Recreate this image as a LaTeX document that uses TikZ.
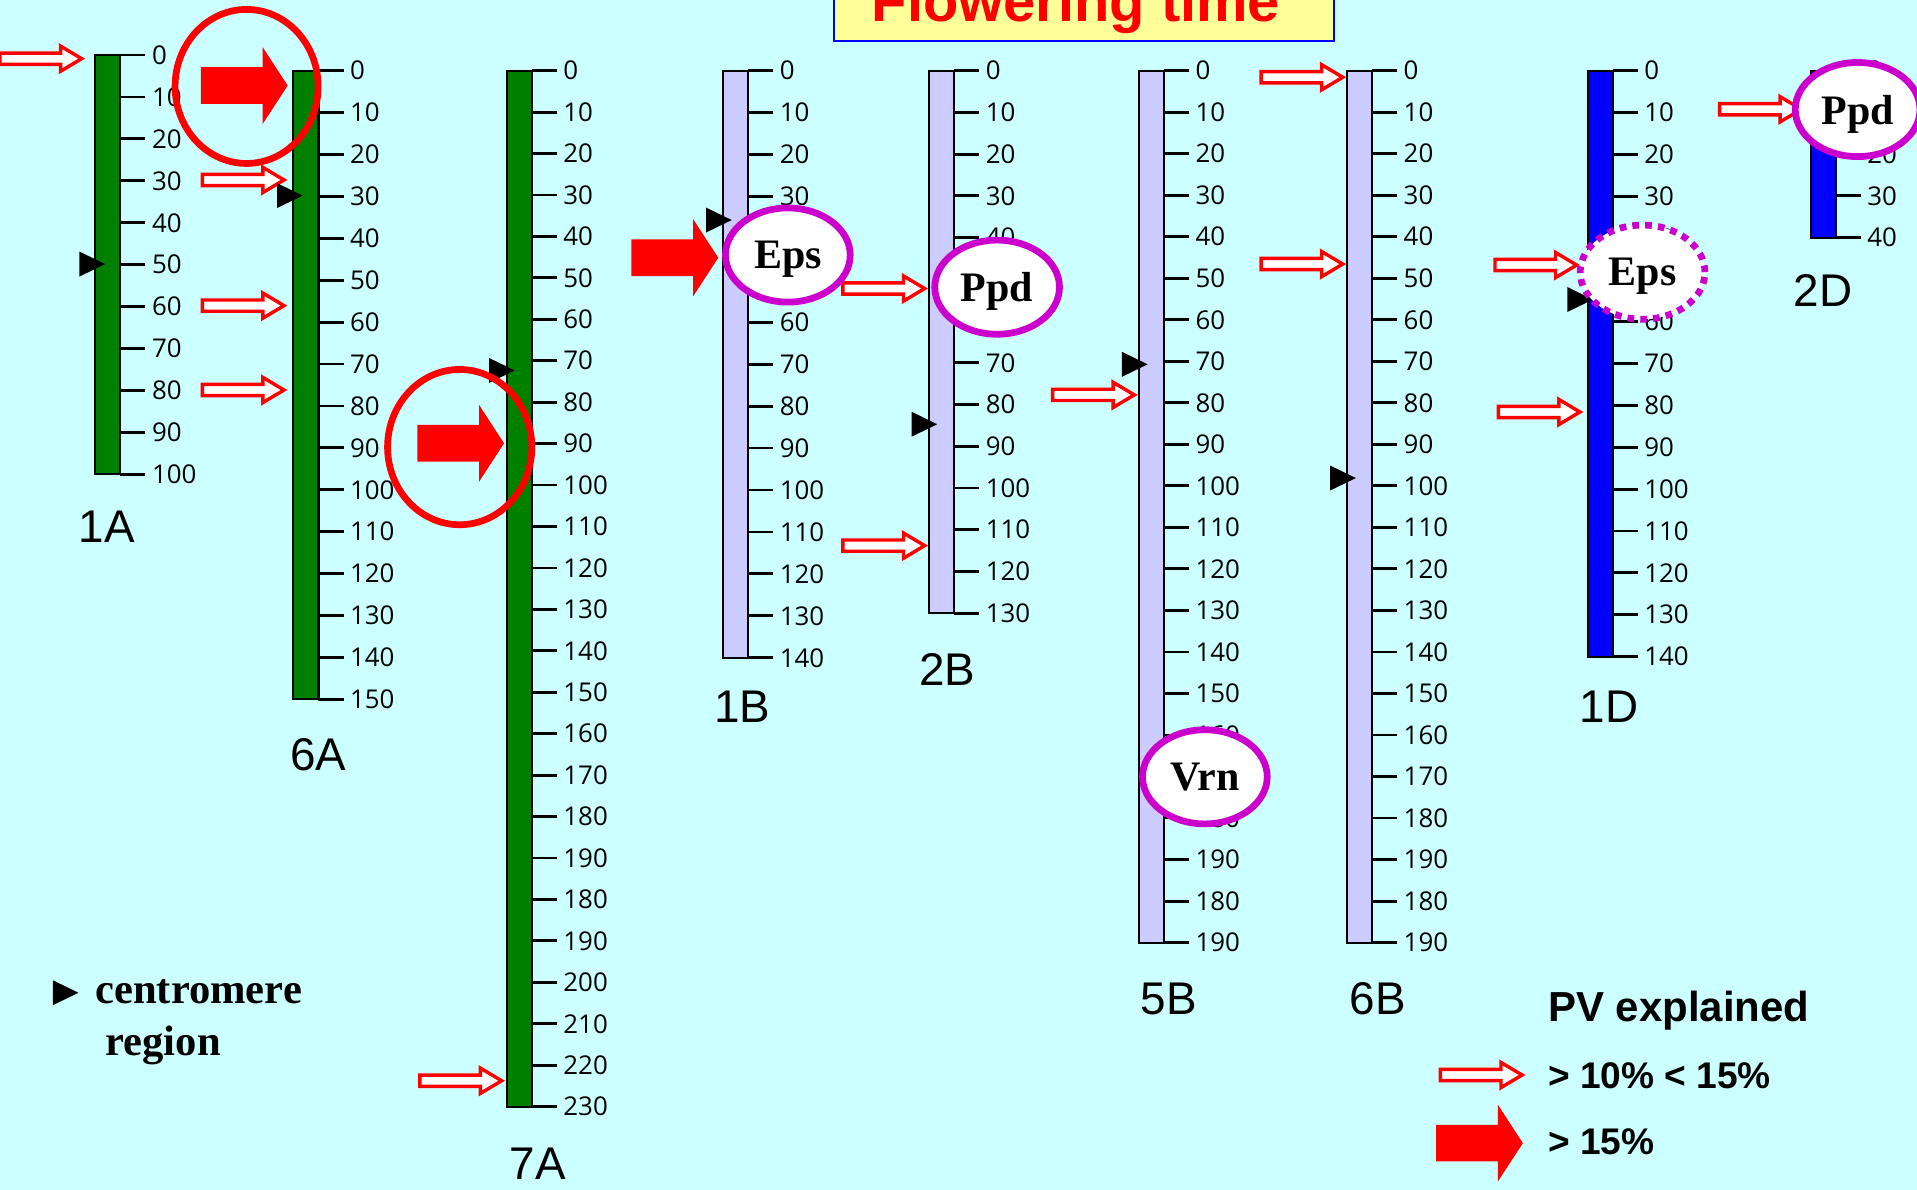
\documentclass[tikz,border=0pt]{standalone}
\usepackage{fontspec}
\setmainfont{Liberation Serif}
\newfontfamily\labelsans{Liberation Sans}
\newfontfamily\ticksans{Open Sans}
\usetikzlibrary{shapes.geometric}

\definecolor{bgcyan}{HTML}{CCFFFF}
\definecolor{chrgreen}{HTML}{008000}
\definecolor{chrlav}{HTML}{CCCCFF}
\definecolor{chrblue}{HTML}{0000FF}
\definecolor{qtlmag}{HTML}{CC00CC}
\definecolor{titlefill}{HTML}{FFFF99}

% arrow symbols and centromere marker, tip at the origin, pointing right
\tikzset{
  pics/openarrow/.style={code={
    \filldraw[fill=white, draw=red, line width=1.7pt, miter limit=10]
      (-69.5,-4.6) -- (-20,-4.6) -- (-20,-10.3) -- (-2.7,0) -- (-20,10.3) -- (-20,4.6) -- (-69.5,4.6) -- cycle;}},
  pics/majorarrow/.style={code={
    \fill[red] (-71,-15) -- (-20.5,-15) -- (-20.5,-31.5) -- (0,0) -- (-20.5,31.5) -- (-20.5,15) -- (-71,15) -- cycle;}},
  pics/cenmark/.style={code={
    \fill[black] (0,0) -- (-21,-10.2) -- (-21,10.2) -- cycle;}}
}

% chromosome: #1 name, #2 left x, #3 top y, #4 bottom y, #5 intervals, #6 fill, #7 tick labels
\newcommand{\chromo}[7]{%
  \node[chrbar, fill=#6, minimum height={(#4-#3)*0.6pt}, anchor=north west] (#1) at (#2,#3) {};
  \foreach \lab [count=\k from 0] in {#7} {
    \coordinate (#1-t\k) at ({#2+20.5},{#3+(#4-#3)/#5*\k});
    \draw[tickline] (#1-t\k) -- ++(20.5,0) coordinate (#1-e\k);
    \node[ticklabel] (#1-l\k) at ([xshift=3pt]#1-e\k) {\lab};
  }
}

\begin{document}
\begin{tikzpicture}[x=0.6pt,y=-0.6pt,
  chrbar/.style={draw=black, line width=1pt, rectangle, inner sep=0pt, outer sep=0pt, minimum width=12.3pt},
  tickline/.style={line width=1.4pt, black},
  ticklabel/.style={anchor=west, inner sep=0pt, font=\ticksans\fontsize{12.7}{13}\selectfont},
  chrname/.style={inner sep=0pt, font=\labelsans\fontsize{22.5}{22.5}\selectfont},
  qtl/.style={ellipse, draw=qtlmag, line width=3.3pt, fill=white, inner sep=0pt,
    minimum width=61.2pt, minimum height=46.2pt, font=\bfseries\fontsize{20.6}{20.6}\selectfont, text depth=0pt},
  ring/.style={ellipse, draw=red, line width=3.3pt, inner sep=0pt},
  legtext/.style={anchor=base west, inner sep=0pt}
]
\useasboundingbox (0,0) rectangle (1568,973);
\fill[bgcyan] (0,0) rectangle (1568,973);

% title
\node[draw=blue, fill=titlefill, line width=1pt, inner sep=0pt, outer sep=0pt,
  minimum width={409.2*0.6pt}, minimum height={53.3*0.6pt}, anchor=south west] (titlebox) at (681.8,33.3) {};
\node[anchor=base, inner sep=0pt, text=red, font=\labelsans\bfseries\fontsize{28.4}{28.4}\selectfont]
  (title) at (880,17.7) {Flowering time};

% chromosomes
\chromo{c1A}{78}{45}{388}{10}{chrgreen}{0,10,20,30,40,50,60,70,80,90,100}
\chromo{c6A}{240}{57.8}{572}{15}{chrgreen}{0,10,20,30,40,50,60,70,80,90,100,110,120,130,140,150}
\chromo{c7A}{414.5}{57.8}{905.2}{25}{chrgreen}{0,10,20,30,40,50,60,70,80,90,100,110,120,130,140,150,160,170,180,190,180,190,200,210,220,230}
\chromo{c1B}{591.5}{57.8}{538}{14}{chrlav}{0,10,20,30,40,50,60,70,80,90,100,110,120,130,140}
\chromo{c2B}{760}{57.8}{501.5}{13}{chrlav}{0,10,20,30,40,50,60,70,80,90,100,110,120,130}
\chromo{c5B}{931.6}{57.8}{771}{21}{chrlav}{0,10,20,30,40,50,60,70,80,90,100,110,120,130,140,150,160,170,180,190,180,190}
\chromo{c6B}{1101.8}{57.8}{771}{21}{chrlav}{0,10,20,30,40,50,60,70,80,90,100,110,120,130,140,150,160,170,180,190,180,190}
\chromo{c1D}{1298.6}{57.8}{537}{14}{chrblue}{0,10,20,30,40,50,60,70,80,90,100,110,120,130,140}
\chromo{c2D}{1481}{57.8}{194.4}{4}{chrblue}{0,10,20,30,40}

% chromosome names
\node[chrname] (n1A) at (87.5,431) {1A};
\node[chrname] (n6A) at (260.5,617) {6A};
\node[chrname] (n7A) at (440,952) {7A};
\node[chrname] (n1B) at (607,578) {1B};
\node[chrname] (n2B) at (775,548) {2B};
\node[chrname] (n5B) at (956,817) {5B};
\node[chrname] (n6B) at (1127,817) {6B};
\node[chrname] (n1D) at (1316,578) {1D};
\node[chrname] (n2D) at (1491,238) {2D};

% QTL positions
\coordinate (q1A) at (69.5,48);
\coordinate (q6Aa) at (235,147.2);
\coordinate (q6Ab) at (235,250);
\coordinate (q6Ac) at (235,319);
\coordinate (q7A) at (413,884);
\coordinate (q2Ba) at (759,236);
\coordinate (q2Bb) at (759,446.3);
\coordinate (q5B) at (930.5,323);
\coordinate (q6Ba) at (1101,63.2);
\coordinate (q6Bb) at (1101,216);
\coordinate (q1Da) at (1292.3,216.8);
\coordinate (q1Db) at (1295,337);
\coordinate (q2D) at (1476,89.4);
\coordinate (m6A) at (235.3,70);
\coordinate (m7A) at (412.3,362.6);
\coordinate (m1B) at (587.5,210.8);

% minor QTL arrows
\foreach \q in {q1A,q6Aa,q6Ab,q6Ac,q7A,q2Ba,q2Bb,q5B,q6Ba,q6Bb,q1Da,q1Db,q2D}
  \pic at (\q) {openarrow};

% centromeres
\coordinate (cen1A) at (86,216);
\coordinate (cen6A) at (247.6,160);
\coordinate (cen7A) at (421,303);
\coordinate (cen1B) at (598.5,180);
\coordinate (cen2B) at (766.6,347);
\coordinate (cen5B) at (938.7,298);
\coordinate (cen6B) at (1109,391);
\coordinate (cen1D) at (1303,245);
\foreach \c in {cen1A,cen6A,cen7A,cen1B,cen2B,cen5B,cen6B,cen1D}
  \pic at (\c) {cenmark};

% major QTL arrows
\foreach \q in {m6A,m7A,m1B}
  \pic at (\q) {majorarrow};

% highlighted regions
\node[ring, minimum width=70.2pt, minimum height=75.6pt] (ring6A) at (201.7,70.7) {};
\node[ring, minimum width=70.8pt, minimum height=76.2pt] (ring7A) at (376,365.7) {};

% candidate genes
\node[qtl] (eps1B) at (644.4,208.6) {Eps};
\node[qtl] (ppd2B) at (815.6,234.9) {Ppd};
\node[qtl] (vrn5B) at (985.5,635.4) {Vrn};
\node[qtl, dash pattern=on 3.3pt off 3pt] (eps1D) at (1343.5,222.6) {Eps};
\node[qtl] (ppd2D) at (1519.4,89.6) {Ppd};

% legend: centromere
\coordinate (legcen) at (64.2,812);
\pic at (legcen) {cenmark};
\node[legtext, font=\bfseries\fontsize{20.9}{20.9}\selectfont] (legc1) at (77.7,820.6) {centromere};
\node[legtext, font=\bfseries\fontsize{20.9}{20.9}\selectfont] (legc2) at (86,863) {region};

% legend: phenotypic variance
\node[legtext, font=\labelsans\bfseries\fontsize{20.6}{20.6}\selectfont] (pvhead) at (1266,835.7) {PV explained};
\coordinate (legminor) at (1247.7,879.3);
\coordinate (legmajor) at (1245.6,935);
\pic at (legminor) {openarrow};
\pic at (legmajor) {majorarrow};
\node[legtext, font=\labelsans\bfseries\fontsize{18.2}{18.2}\selectfont] (pvminor) at (1266,890) {> 10\% < 15\%};
\node[legtext, font=\labelsans\bfseries\fontsize{18.2}{18.2}\selectfont] (pvmajor) at (1266,944.7) {> 15\%};
\end{tikzpicture}
\end{document}
